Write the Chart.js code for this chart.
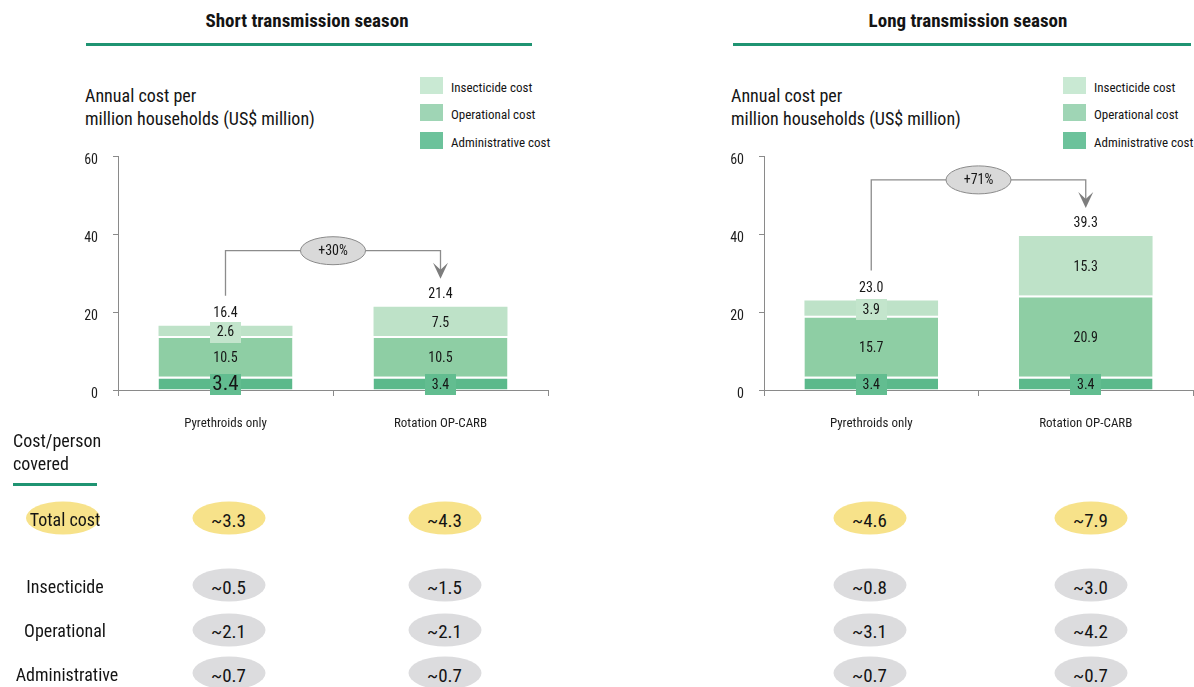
<!DOCTYPE html>
<html>
<head>
<meta charset="utf-8">
<script src="https://cdn.jsdelivr.net/npm/chart.js@4.4.1/dist/chart.umd.min.js"></script>
<style>
  html, body { margin: 0; padding: 0; background: #fff; overflow: hidden; }
  body {
    width: 1194px; height: 687px; position: relative;
    font-family: 'Liberation Sans Narrow', 'Roboto Condensed', 'DejaVu Sans Condensed', 'Arial Narrow', sans-serif;
    color: #141414;
  }
  .abs { position: absolute; white-space: nowrap; }
  .title { font-weight: bold; font-size: 19px; line-height: 22px; transform: translate(-50%, -50%); }
  .rule { position: absolute; height: 3px; background: #1f9472; }
  .sub { font-size: 18px; line-height: 23px; }
  .sw { position: absolute; width: 23px; height: 17px; }
  .lg { font-size: 13px; line-height: 16px; transform: translateY(-50%); }
  .rowlab { font-size: 18px; line-height: 22px; transform: translate(-50%, -50%); }
  .pill {
    position: absolute; width: 73px; height: 33px; border-radius: 50%;
    transform: translate(-50%, -50%);
    display: flex; align-items: center; justify-content: center;
    font-size: 19px; padding-top: 3px; box-sizing: border-box;
  }
  canvas { position: absolute; }
</style>
</head>
<body>
<div class="abs title" style="left:307px;top:21px">Short transmission season</div>
<div class="rule" style="left:86px;top:43px;width:446px"></div>
<div class="abs title" style="left:968px;top:21px">Long transmission season</div>
<div class="rule" style="left:733px;top:43px;width:458px"></div>

<div class="abs sub" style="left:85px;top:84px">Annual cost per<br>million households (US$ million)</div>
<div class="abs sub" style="left:731px;top:84px">Annual cost per<br>million households (US$ million)</div>

<div id="legends"></div>

<canvas id="shortChart" width="560" height="300" style="left:0px;top:140px;width:560px;height:300px"></canvas>
<canvas id="longChart" width="560" height="300" style="left:646px;top:140px;width:560px;height:300px"></canvas>

<div class="abs" style="left:13px;top:429px;font-size:18px;line-height:23px">Cost/person<br>covered</div>
<div class="rule" style="left:13px;top:483px;width:84px"></div>

<div id="table"></div>

<script>
// ---- chart data ----
const categories = ['Pyrethroids only', 'Rotation OP-CARB'];
const seriesNames = ['Administrative cost', 'Operational cost', 'Insecticide cost'];
const yTickValues = [0, 20, 40, 60];

// Short transmission season (US$ million per million households)
const shortAdministrative = [3.4, 3.4];
const shortOperational = [10.5, 10.5];
const shortInsecticide = [2.6, 7.5];
const shortTotals = [16.4, 21.4];
const shortChange = '+30%';

// Long transmission season
const longAdministrative = [3.4, 3.4];
const longOperational = [15.7, 20.9];
const longInsecticide = [3.9, 15.3];
const longTotals = [23.0, 39.3];
const longChange = '+71%';

// Cost per person covered (US$)
const rowLabels = ['Total cost', 'Insecticide', 'Operational', 'Administrative'];
const perPersonShortPyrethroids = [3.3, 0.5, 2.1, 0.7];
const perPersonShortRotation = [4.3, 1.5, 2.1, 0.7];
const perPersonLongPyrethroids = [4.6, 0.8, 3.1, 0.7];
const perPersonLongRotation = [7.9, 3.0, 4.2, 0.7];

// ---- styling ----
const FONT = "'Liberation Sans Narrow', 'Roboto Condensed', 'DejaVu Sans Condensed', 'Arial Narrow', sans-serif";
const barColors = ['#5bb98b', '#8ecea4', '#bee2c8'];
const boxColors = ['#62bd90', '#8ecea4', '#c3e5cc'];
const legendColors = ['#6cc29b', '#9fd5b5', '#c9e9d3'];
const axisColor = '#8a8a8a';

// ---- legends ----
(function () {
  const host = document.getElementById('legends');
  const order = [2, 1, 0];
  const tops = [77, 104, 132];
  [[420, 451], [1063, 1094]].forEach(([sx, tx]) => {
    order.forEach((si, r) => {
      const sw = document.createElement('div');
      sw.className = 'sw';
      sw.style.left = sx + 'px';
      sw.style.top = tops[r] + 'px';
      sw.style.background = legendColors[si];
      host.appendChild(sw);
      const t = document.createElement('div');
      t.className = 'abs lg';
      t.style.left = tx + 'px';
      t.style.top = (tops[r] + 11) + 'px';
      t.textContent = seriesNames[si];
      host.appendChild(t);
    });
  });
})();

// ---- per-person table ----
(function () {
  const host = document.getElementById('table');
  const rowY = [518, 585, 629.5, 673];
  const colX = [228.5, 444.5, 869.5, 1090.5];
  const cols = [perPersonShortPyrethroids, perPersonShortRotation, perPersonLongPyrethroids, perPersonLongRotation];
  rowLabels.forEach((lab, r) => {
    if (r === 0) {
      const hl = document.createElement('div');
      hl.className = 'pill';
      hl.style.left = '63px';
      hl.style.top = rowY[r] + 'px';
      hl.style.width = '74px';
      hl.style.background = '#f7e28a';
      host.appendChild(hl);
    }
    const l = document.createElement('div');
    l.className = 'abs rowlab';
    l.style.left = (r === 3 ? 67 : 65) + 'px';
    l.style.top = (rowY[r] + 1.5) + 'px';
    l.textContent = lab;
    host.appendChild(l);
    cols.forEach((col, c) => {
      const p = document.createElement('div');
      p.className = 'pill';
      p.style.left = colX[c] + 'px';
      p.style.top = rowY[r] + 'px';
      p.style.background = r === 0 ? '#f7e28a' : '#dcdcde';
      p.textContent = '~' + col[r].toFixed(1);
      host.appendChild(p);
    });
  });
})();

// ---- segment labels, totals and change bracket ----
const annotatePlugin = {
  id: 'annotate',
  afterDatasetsDraw(chart, args, o) {
    const ctx = chart.ctx;
    ctx.save();
    ctx.textAlign = 'center';
    ctx.textBaseline = 'middle';
    const n = chart.data.labels.length;
    const tops = new Array(n).fill(Infinity);
    const xs = [];
    chart.data.datasets.forEach((ds, di) => {
      const meta = chart.getDatasetMeta(di);
      meta.data.forEach((bar, i) => {
        xs[i] = bar.x;
        tops[i] = Math.min(tops[i], bar.y);
        const h = bar.base - bar.y;
        const cy = (bar.y + bar.base) / 2;
        if (h < 22) {
          ctx.fillStyle = boxColors[di];
          ctx.fillRect(Math.round(bar.x - 15.5), Math.round(cy + 1.5 - 10.5), 31, 21);
        }
        const big = o.big && o.big[0] === di && o.big[1] === i;
        ctx.fillStyle = '#161616';
        ctx.font = (big ? '21px ' : '14px ') + FONT;
        ctx.fillText(ds.data[i].toFixed(1), bar.x, cy + 2);
      });
    });
    // totals above each stack
    ctx.font = '14px ' + FONT;
    ctx.fillStyle = '#161616';
    o.totals.forEach((t, i) => ctx.fillText(t.toFixed(1), xs[i], tops[i] - 12));

    // bracket with arrow
    const x1 = xs[0], x2 = xs[1];
    const yStart = tops[0] - 30;
    const yLine = Math.min(tops[0], tops[1]) - 56;
    const yTip = tops[1] - 28;
    ctx.strokeStyle = '#8c8c8c';
    ctx.lineWidth = 1.3;
    ctx.beginPath();
    ctx.moveTo(x1, yStart);
    ctx.lineTo(x1, yLine);
    ctx.lineTo(x2, yLine);
    ctx.lineTo(x2, yTip - 6);
    ctx.stroke();
    ctx.fillStyle = '#7d7d7d';
    ctx.beginPath();
    ctx.moveTo(x2, yTip);
    ctx.lineTo(x2 - 7.5, yTip - 16);
    ctx.lineTo(x2, yTip - 9);
    ctx.lineTo(x2 + 7.5, yTip - 16);
    ctx.closePath();
    ctx.fill();
    const ex = (x1 + x2) / 2;
    ctx.beginPath();
    ctx.ellipse(ex, yLine, 32.5, 14, 0, 0, Math.PI * 2);
    ctx.fillStyle = '#d9d9d9';
    ctx.fill();
    ctx.strokeStyle = '#8a8a8a';
    ctx.lineWidth = 1;
    ctx.stroke();
    ctx.fillStyle = '#161616';
    ctx.font = '14px ' + FONT;
    ctx.fillText(o.change, ex, yLine + 1);
    ctx.restore();
  }
};

function makeChart(id, admin, oper, insect, totals, change, padRight, big) {
  const sets = [admin, oper, insect].map((d, k) => ({
    label: seriesNames[k],
    data: d,
    backgroundColor: barColors[k],
    borderColor: '#ffffff',
    borderWidth: k < 2 ? { top: 2, left: 0, right: 0, bottom: 0 } : 0,
    borderSkipped: false
  }));
  return new Chart(document.getElementById(id), {
    type: 'bar',
    data: { labels: categories, datasets: sets },
    plugins: [annotatePlugin],
    options: {
      responsive: false,
      animation: false,
      devicePixelRatio: 1,
      layout: { padding: { left: 0, right: padRight, top: 16.5, bottom: 0 } },
      datasets: { bar: { categoryPercentage: 1, barPercentage: 0.623 } },
      plugins: {
        legend: { display: false },
        tooltip: { enabled: false },
        annotate: { totals: totals, change: change, big: big }
      },
      scales: {
        x: {
          stacked: true,
          grid: { drawOnChartArea: false, tickLength: 6, color: axisColor, offset: true },
          border: { color: axisColor },
          ticks: { font: { family: FONT, size: 13 }, color: '#1e1e1e', padding: 20, maxRotation: 0 },
          afterFit(s) { s.height = 50; s.paddingLeft = 0; s.paddingRight = 0; }
        },
        y: {
          stacked: true,
          min: 0, max: 60,
          afterBuildTicks(s) { s.ticks = yTickValues.map(v => ({ value: v })); },
          ticks: { font: { family: FONT, size: 14 }, color: '#1e1e1e', padding: 15, labelOffset: 4 },
          grid: { drawOnChartArea: false, tickLength: 5, color: axisColor },
          border: { color: axisColor },
          afterFit(s) { s.width = 118; s.paddingTop = 0; s.paddingBottom = 0; }
        }
      }
    }
  });
}

makeChart('shortChart', shortAdministrative, shortOperational, shortInsecticide, shortTotals, shortChange, 12, [0, 0]);
makeChart('longChart', longAdministrative, longOperational, longInsecticide, longTotals, longChange, 13, null);
</script>
</body>
</html>
